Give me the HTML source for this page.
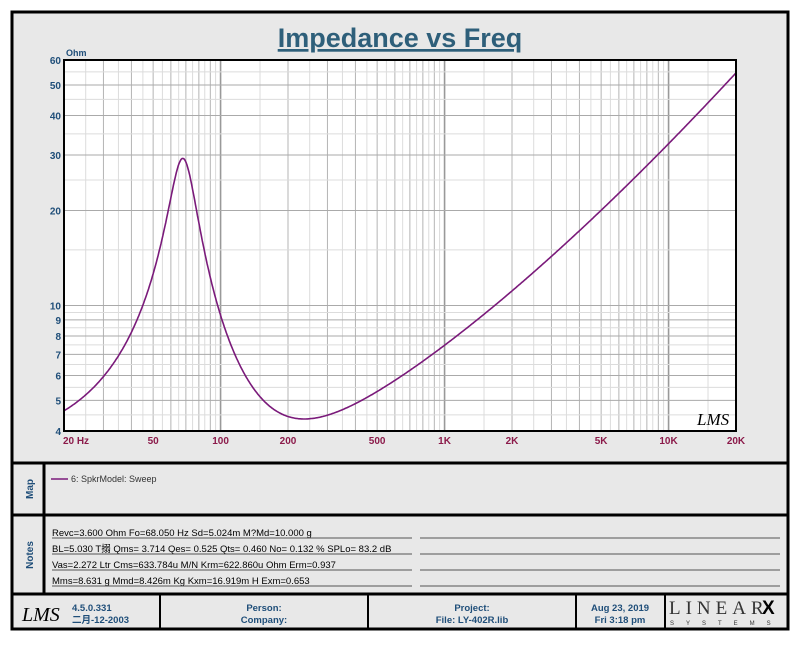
<!DOCTYPE html>
<html><head><meta charset="utf-8"><style>
body{margin:0;width:800px;height:640px;background:#fff;font-family:"Liberation Sans","Noto Sans CJK SC",sans-serif;overflow:hidden}
</style></head><body>
<svg id="s" width="800" height="640" xmlns="http://www.w3.org/2000/svg" font-family="Liberation Sans, Noto Sans CJK SC, sans-serif">
<rect x="12" y="12" width="776" height="617" fill="#e8e8e8" stroke="#000" stroke-width="3"/>
<text x="400" y="47" text-anchor="middle" font-size="27" font-weight="bold" fill="#2e5f7a" text-decoration="underline">Impedance vs Freq</text>
<rect x="64" y="60" width="672" height="371" fill="#fff"/>
<g id="grid"></g>
<path id="curve" fill="none" stroke="#7a1a7a" stroke-width="1.6"/>
<rect x="64" y="60" width="672" height="371" fill="none" stroke="#000" stroke-width="2"/>
<text x="66" y="56" font-size="9" font-weight="bold" fill="#1f4e79">Ohm</text>
<g id="ylab" font-size="10" font-weight="bold" fill="#1f4e79" text-anchor="end"></g>
<g id="xlab" font-size="10" font-weight="bold" fill="#8b1a4a" text-anchor="middle"></g>
<text x="697" y="425" font-size="17" font-style="italic" fill="#000" font-family="Liberation Serif, serif">LMS</text>
<line x1="12" y1="463" x2="788" y2="463" stroke="#000" stroke-width="3"/>
<line x1="12" y1="515" x2="788" y2="515" stroke="#000" stroke-width="3"/>
<line x1="12" y1="594" x2="788" y2="594" stroke="#000" stroke-width="3"/>
<line x1="44" y1="463" x2="44" y2="594" stroke="#000" stroke-width="3"/>
<text transform="translate(33,489) rotate(-90)" text-anchor="middle" font-size="10" font-weight="bold" fill="#1f4e79">Map</text>
<text transform="translate(33,555) rotate(-90)" text-anchor="middle" font-size="10" font-weight="bold" fill="#1f4e79">Notes</text>
<line x1="51" y1="479" x2="68" y2="479" stroke="#7a1a7a" stroke-width="1.5"/>
<text x="71" y="482" font-size="9" fill="#333">6: SpkrModel: Sweep</text>
<g font-size="9.5" fill="#000" font-family="Liberation Sans, Noto Sans CJK SC, sans-serif">
<text x="52" y="536">Revc=3.600 Ohm  Fo=68.050 Hz  Sd=5.024m M?Md=10.000 g</text>
<text x="52" y="552">BL=5.030 T搦  Qms= 3.714  Qes= 0.525  Qts= 0.460  No= 0.132 %  SPLo= 83.2 dB</text>
<text x="52" y="568">Vas=2.272 Ltr  Cms=633.784u M/N  Krm=622.860u Ohm  Erm=0.937</text>
<text x="52" y="584">Mms=8.631 g  Mmd=8.426m Kg  Kxm=16.919m H  Exm=0.653</text>
</g>
<g stroke="#555" stroke-width="1">
<line x1="52" y1="538" x2="412" y2="538"/><line x1="420" y1="538" x2="780" y2="538"/>
<line x1="52" y1="554" x2="412" y2="554"/><line x1="420" y1="554" x2="780" y2="554"/>
<line x1="52" y1="570" x2="412" y2="570"/><line x1="420" y1="570" x2="780" y2="570"/>
<line x1="52" y1="586" x2="412" y2="586"/><line x1="420" y1="586" x2="780" y2="586"/>
</g>
<g stroke="#000" stroke-width="2">
<line x1="160" y1="594" x2="160" y2="628"/><line x1="368" y1="594" x2="368" y2="628"/>
<line x1="576" y1="594" x2="576" y2="628"/><line x1="665" y1="594" x2="665" y2="628"/>
</g>
<text x="22" y="621" font-size="20" font-style="italic" fill="#000" font-family="Liberation Serif, serif">LMS</text>
<g font-size="9.5" font-weight="bold" fill="#1f4e79">
<text x="72" y="611">4.5.0.331</text>
<text x="72" y="623">二月-12-2003</text>
<text x="264" y="611" text-anchor="middle">Person:</text>
<text x="264" y="623" text-anchor="middle">Company:</text>
<text x="472" y="611" text-anchor="middle">Project:</text>
<text x="472" y="623" text-anchor="middle">File: LY-402R.lib</text>
<text x="620" y="611" text-anchor="middle">Aug 23, 2019</text>
<text x="620" y="623" text-anchor="middle">Fri  3:18 pm</text>
</g>
<text x="669" y="614" font-size="19" fill="#333" font-family="Liberation Serif, serif" letter-spacing="5">LINEAR</text>
<text x="762" y="614" font-size="19" font-weight="bold" fill="#000">X</text>
<text x="670" y="625" font-size="6" fill="#333" letter-spacing="12">SYSTEMS</text>
</svg>
<script>
var NS="http://www.w3.org/2000/svg";
function X(f){return 64+224*Math.log10(f/20);}
function Y(z){return 431-371*Math.log10(z/4)/Math.log10(15);}
var g=document.getElementById("grid");
function ln(x1,y1,x2,y2,c,w){var l=document.createElementNS(NS,"line");l.setAttribute("x1",x1);l.setAttribute("y1",y1);l.setAttribute("x2",x2);l.setAttribute("y2",y2);l.setAttribute("stroke",c);l.setAttribute("stroke-width",w);g.appendChild(l);}
[10,100,1000,10000].forEach(function(d){for(var m=1;m<10;m++){var f=d*m;if(f<20||f>20000)continue;
 ln(X(f),60,X(f),431,m==1?"#999":"#b4b4b4",m==1?1.6:1);
 var h=f+d/2; if(h>20&&h<20000) ln(X(h),60,X(h),431,"#dcdcdc",1);}});
[4.5,5.5,6.5,7.5,8.5,9.5,15,25,35,45,55].forEach(function(z){ln(64,Y(z),736,Y(z),"#dcdcdc",1);});
[5,6,7,8,9,10,20,30,40,50].forEach(function(z){ln(64,Y(z),736,Y(z),"#aaa",1);});
var yl=document.getElementById("ylab");
[4,5,6,7,8,9,10,20,30,40,50,60].forEach(function(z){var t=document.createElementNS(NS,"text");t.setAttribute("x",61);t.setAttribute("y",Y(z)+4);t.textContent=z;yl.appendChild(t);});
var xl=document.getElementById("xlab");
[[20,"20  Hz"],[50,"50"],[100,"100"],[200,"200"],[500,"500"],[1000,"1K"],[2000,"2K"],[5000,"5K"],[10000,"10K"],[20000,"20K"]].forEach(function(p){var t=document.createElementNS(NS,"text");t.setAttribute("x",p[0]==20?X(20)+12:X(p[0]));t.setAttribute("y",444);t.textContent=p[1];xl.appendChild(t);});
var Re=3.6,Fo=68.05,Qms=3.714,Qes=0.525,Rm=Re*Qms/Qes,d="";
for(var i=0;i<=700;i++){var f=20*Math.pow(1000,i/700),w=2*Math.PI*f;
 var a=Qms*(f/Fo-Fo/f),den=1+a*a,zr=Rm/den,zi=-Rm*a/den;
 zr+=Re+622.86e-6*Math.pow(w,0.937);zi+=16.919e-3*Math.pow(w,0.653);
 var z=Math.sqrt(zr*zr+zi*zi);d+=(i?"L":"M")+X(f).toFixed(1)+","+Y(z).toFixed(1);}
document.getElementById("curve").setAttribute("d",d);
</script>
</body></html>
